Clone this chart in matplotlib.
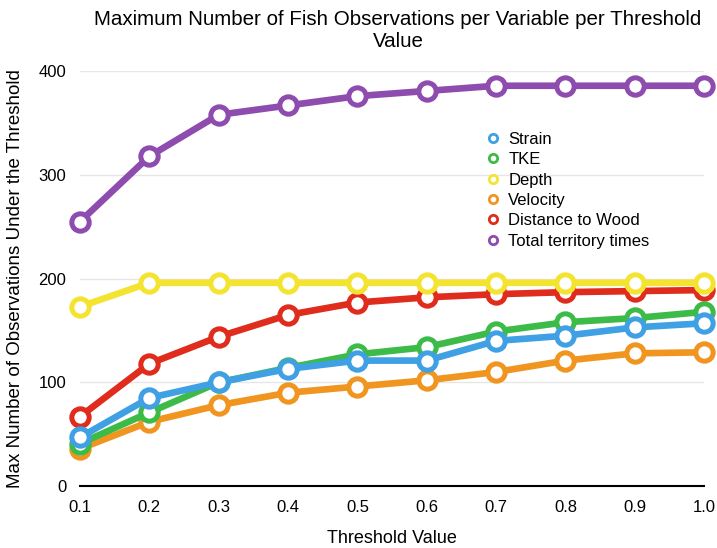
import matplotlib
matplotlib.use("Agg")
import matplotlib.pyplot as plt

plt.rcParams["font.family"] = ["Liberation Sans", "DejaVu Sans"]

# threshold values on the x axis
thresholds = [0.1, 0.2, 0.3, 0.4, 0.5, 0.6, 0.7, 0.8, 0.9, 1.0]
x_ticks = ["0.1", "0.2", "0.3", "0.4", "0.5", "0.6", "0.7", "0.8", "0.9", "1.0"]

# max observations per variable
strain = [47, 85, 100, 113, 121, 121, 140, 145, 153, 157]
tke = [41, 71, 100, 114, 127, 134, 149, 158, 162, 168]
depth = [173, 196, 196, 196, 196, 196, 196, 196, 196, 196]
velocity = [36, 62, 78, 90, 96, 102, 110, 121, 128, 129]
dist_wood = [67, 118, 144, 165, 177, 182, 185, 187, 188, 189]
territory = [255, 318, 358, 367, 376, 381, 386, 386, 386, 386]

series = [
    ("Strain", strain, "#3fa0e4", 5),
    ("TKE", tke, "#3dbb48", 4),
    ("Depth", depth, "#f4e431", 6),
    ("Velocity", velocity, "#f0951f", 2),
    ("Distance to Wood", dist_wood, "#df2c1c", 3),
    ("Total territory times", territory, "#8d4cae", 7),
]

fig = plt.figure(figsize=(7.17, 5.48), dpi=100)
ax = fig.add_axes([0.1116, 0.113, 0.8704, 0.757])

for name, vals, col, z in series:
    ax.plot(thresholds, vals, color=col, lw=4.8, marker="o", ms=12.5,
            mfc="white", mec=col, mew=3.6, label=name, zorder=z, clip_on=False)

ax.set_xlim(0.1, 1.0)
ax.set_ylim(0, 400)
ax.set_xticks(thresholds)
ax.set_xticklabels(x_ticks)
ax.set_yticks([0, 100, 200, 300, 400])
ax.tick_params(length=0, labelsize=12, pad=10)
ax.grid(axis="y", color="#e6e6e6", lw=1)
ax.set_axisbelow(True)
for s in ["top", "right", "left"]:
    ax.spines[s].set_visible(False)
ax.spines["bottom"].set_color("black")
ax.spines["bottom"].set_linewidth(1.5)

ax.set_xlabel("Threshold Value", fontsize=13, labelpad=11)
ax.set_ylabel("Max Number of Observations Under the Threshold", fontsize=13.5, labelpad=10)
fig.text(0.555, 0.965, "Maximum Number of Fish Observations per Variable per Threshold",
         ha="center", va="center", fontsize=14.8)
fig.text(0.555, 0.925, "Value", ha="center", va="center", fontsize=14.8)

handles = [plt.Line2D([], [], ls="none", marker="o", ms=6, mfc="white",
                      mec=col, mew=2) for _, _, col, _ in series]
leg = ax.legend(handles, [s[0] for s in series], loc="upper left",
                bbox_to_anchor=(0.622, 0.89), frameon=False, fontsize=12,
                handletextpad=0.3, labelspacing=0.32, handlelength=1.2)

fig.savefig("out.png", dpi=100)
